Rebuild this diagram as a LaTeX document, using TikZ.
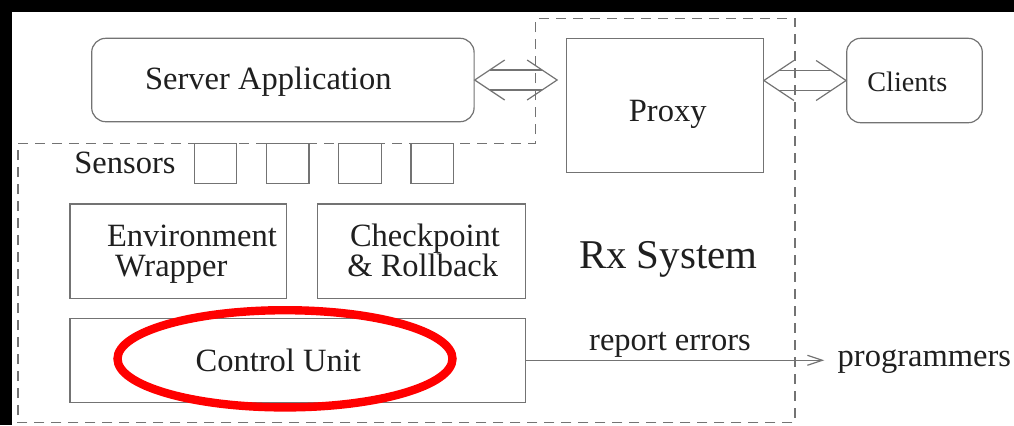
\documentclass[tikz,border=0pt]{standalone}
\usepackage{fontspec}
\setmainfont{Liberation Serif}
\usetikzlibrary{arrows.meta}
\definecolor{linegray}{gray}{0.45}
\definecolor{txtgray}{gray}{0.12}
\tikzset{
  box/.style={draw=linegray,line width=0.6pt,inner sep=0pt},
  rbox/.style={box,rounded corners=7pt},
  lbl/.style={text=txtgray,inner sep=0pt,font=\fontsize{16.25}{15}\selectfont},
  conn/.style={draw=linegray,line width=0.6pt},
  region/.style={draw=linegray,line width=0.6pt,dash pattern=on 5pt off 3.5pt},
}
\begin{document}
\begin{tikzpicture}[x=0.5pt,y=-0.5pt]
  \useasboundingbox (0,0) rectangle (1014,425);
  \fill[black] (0,0) rectangle (1014,425);
  \fill[white] (12,12) rectangle (1014,425);
  % Rx system region
  \draw[region] (18,143.3) -- (535.7,143.3) -- (535.7,18.3) -- (795,18.3)
    -- (795,422.7) -- (18,422.7) -- cycle;
  % boxes
  \node[rbox,minimum width=191.2pt,minimum height=41.7pt] (srv) at (282.9,80) {};
  \node[box,minimum width=98.3pt,minimum height=67.2pt] (proxy) at (665,105.5) {};
  \node[rbox,minimum width=67.8pt,minimum height=42.2pt] (clients) at (914.5,80.5) {};
  \node[box,minimum width=108.4pt,minimum height=47.2pt] (env) at (178.4,251.2) {};
  \node[box,minimum width=104.2pt,minimum height=47.2pt] (ckpt) at (421.5,251.2) {};
  \node[box,minimum width=227.9pt,minimum height=42pt] (ctrl) at (297.9,360.3) {};
  \foreach \i in {0,...,3}
    \node[box,minimum width=21.2pt,minimum height=20pt] (sens\i) at (215.5+72.2*\i,163.3) {};
  % texts
  \node[lbl,anchor=base] (srvtxt) at (268.3,89) {Server Application};
  \node[lbl,anchor=base] (proxytxt) at (667.7,121.7) {Proxy};
  \node[lbl,anchor=base,font=\fontsize{14.1}{15}\selectfont] (clitxt) at (907.3,91.7) {Clients};
  \node[lbl,anchor=base west] (senstxt) at (74,173.3) {Sensors};
  \node[lbl,anchor=base west,align=left] (envtxt) at (106.7,276) {Environment\\\hspace*{4pt}Wrapper};
  \node[lbl,anchor=base west,align=left] (ckpttxt) at (347,276.7) {\hspace*{1.3pt}Checkpoint\\\& Rollback};
  \node[lbl,anchor=base] (ctrltxt) at (278.3,371.7) {Control Unit};
  \node[lbl,anchor=base,font=\fontsize{20.45}{22}\selectfont] (rxtxt) at (668.2,268.3) {Rx System};
  \node[lbl,anchor=base] (errtxt) at (670,350) {report errors};
  \node[lbl,anchor=base west] (prog) at (837.3,366.7) {programmers};
  % double arrows
  \path (srv.east) coordinate (a1)
    (a1 -| proxy.west) ++(-9,0) coordinate (a2)
    (proxy.east |- clients.west) coordinate (b1)
    (clients.west) coordinate (b2);
  \foreach \l/\r in {a1/a2,b1/b2}{
    \draw[conn] (\l) ++(30,-20) -- (\l) -- ++(30,20);
    \draw[conn] (\r) ++(-30,-20) -- (\r) -- ++(-30,20);
    \draw[conn] ([xshift=7.5pt,yshift=5pt]\l) -- ([xshift=-7.5pt,yshift=5pt]\r);
    \draw[conn] ([xshift=7.5pt,yshift=-5pt]\l) -- ([xshift=-7.5pt,yshift=-5pt]\r);
  }
  \draw[conn,-{Straight Barb[length=7.5pt,width=5pt]},shorten >=6.5pt] (ctrl.east) -- (ctrl.east -| prog.west);
  % highlight
  \draw[red,line width=4.2pt] (285,358.8) ellipse [x radius=83.75pt,y radius=24.3pt];
\end{tikzpicture}
\end{document}
